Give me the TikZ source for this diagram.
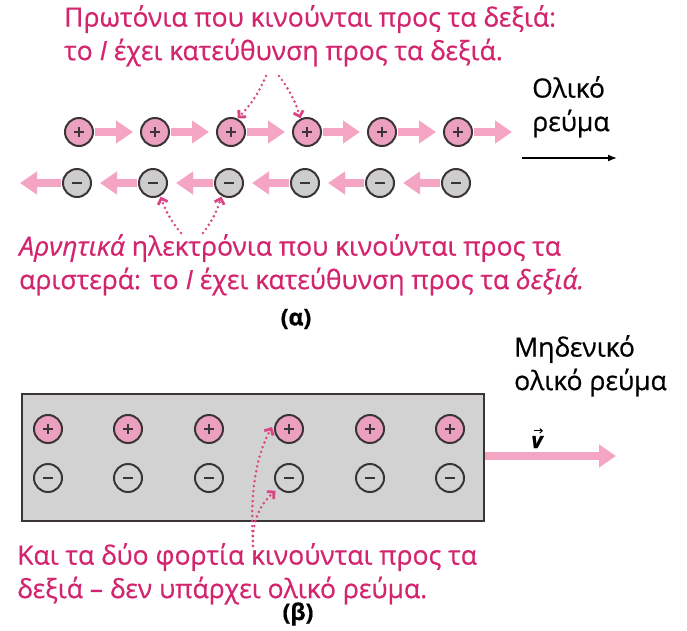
\documentclass[tikz,border=0pt]{standalone}
\usepackage{fontspec}
\setmainfont{Open Sans}[FakeBold=0.6]
\usetikzlibrary{arrows.meta}
\definecolor{txtpink}{HTML}{D3246E}
\definecolor{arrpink}{HTML}{F3A5C3}
\definecolor{ppfill}{HTML}{EBA0BF}
\definecolor{mmfill}{HTML}{CDCDCD}
\definecolor{rectgray}{HTML}{D2D2D2}
\definecolor{ringcol}{HTML}{3A3436}
\begin{document}
\begin{tikzpicture}[x=1pt,y=-1pt,
  txt/.style={font=\fontsize{26.5}{33.5}\selectfont, inner sep=0pt, align=left, anchor=north west},
  pinktxt/.style={txt, text=txtpink},
  charge/.style={circle, draw=ringcol, line width=2pt, minimum size=28pt, inner sep=0pt},
  plus/.style={charge, fill=ppfill, path picture={
     \draw[ringcol, line width=1.2pt] ([xshift=-5pt]path picture bounding box.center) -- ([xshift=5pt]path picture bounding box.center);
     \draw[ringcol, line width=1.2pt] ([yshift=-5pt]path picture bounding box.center) -- ([yshift=5pt]path picture bounding box.center);}},
  minus/.style={charge, fill=mmfill, path picture={
     \draw[ringcol, line width=1.8pt] ([xshift=-5pt]path picture bounding box.center) -- ([xshift=5pt]path picture bounding box.center);}},
  fat/.style={draw=arrpink, line width=8.5pt, -{Triangle[width=22pt,length=17pt]}, arrpink},
  dots/.style={draw=txtpink!85, line width=2.8pt, dash pattern=on 0pt off 5pt, line cap=round, -{Straight Barb[length=5pt,width=10pt,line cap=butt]}},
  caption/.style={font=\fontsize{23}{27}\selectfont\bfseries, inner sep=0pt},
]
\useasboundingbox (0,0) rectangle (687,630);

% ---------- (a) ----------
\node[pinktxt] (ta) at (64,5) {Πρωτόνια που κινούνται προς τα δεξιά:\\το \textit{I} έχει κατεύθυνση προς τα δεξιά.};

\foreach \i/\x in {1/79,2/155,3/231,4/307,5/382,6/458}{
  \node[plus] (p\i) at (\x,132) {};
}
\foreach \i/\x in {1/77,2/153,3/229,4/305,5/380,6/456}{
  \node[minus] (m\i) at (\x,183) {};
}
\coordinate (pend) at (512,132);
\coordinate (mend) at (20,183);
\foreach \a/\b in {1/2,2/3,3/4,4/5,5/6}{
  \draw[fat] ([xshift=1pt]p\a.east) -- ([xshift=-7pt]p\b.west);
  \draw[fat] ([xshift=-1pt]m\b.west) -- ([xshift=8pt]m\a.east);
}
\draw[fat] ([xshift=1pt]p6.east) -- (pend);
\draw[fat] ([xshift=-1pt]m1.west) -- (mend);

\node[txt] (ol) at (532,76) {Ολικό\\ρεύμα};
\coordinate (bl) at (522,158);
\coordinate (br) at (617,158);
\draw[line width=1.4pt, -{Latex[length=9pt,width=7pt]}] (bl) -- (br);

\coordinate (d1s) at (266,76);
\coordinate (d2s) at (279,76);
\draw[dots] (d1s) to[bend left=10] ([xshift=-4pt,yshift=3pt]p3.north east);
\draw[dots] (d2s) to[bend left=10] ([xshift=4pt,yshift=3pt]p4.north west);

\node[pinktxt] (tb) at (19,234) {\textit{Αρνητικά} ηλεκτρόνια που κινούνται προς τα\\αριστερά: το \textit{I} έχει κατεύθυνση προς τα \textit{δεξιά.}};
\coordinate (d3s) at (181,233);
\coordinate (d4s) at (203,233);
\draw[dots] (d3s) to[bend left=10] ([xshift=-3pt,yshift=-3pt]m2.south east);
\draw[dots] (d4s) to[bend right=10] ([xshift=3pt,yshift=-3pt]m3.south west);

\node[caption] (la) at (296,319) {(α)};

% ---------- (b) ----------
\node[txt] (mz) at (514,335) {Μηδενικό\\ολικό ρεύμα};

\node[draw=ringcol, line width=1.6pt, fill=rectgray, minimum width=462pt, minimum height=127pt, inner sep=0pt, anchor=north west] (rect) at (21,393) {};

\foreach \i/\x in {1/48,2/128,3/209,4/289,5/370,6/450}{
  \node[plus] (bp\i) at (\x,429) {};
  \node[minus, fill=rectgray] (bm\i) at (\x,478) {};
}

\node[font=\fontsize{22}{24}\selectfont\bfseries\itshape, inner sep=0pt] (vv) at (537,442) {v};
\draw[line width=1pt, -{Straight Barb[length=2.5pt,width=4.5pt]}] ([xshift=-3pt,yshift=5pt]vv.north) -- ([xshift=6pt,yshift=5pt]vv.north);
\coordinate (vend) at (616,456);
\draw[fat] (rect.east |- vend) -- (vend);

\node[pinktxt] (tc) at (17,543) {Και τα δύο φορτία κινούνται προς τα\\δεξιά -- δεν υπάρχει ολικό ρεύμα.};
\coordinate (d5s) at (253,546);
\draw[dots] (d5s) .. controls (250,495) and (255,458) .. ([xshift=-2pt,yshift=2pt]bp4.west);
\draw[dots] (d5s) .. controls (252,520) and (260,505) .. ([xshift=-3pt,yshift=-2pt]bm4.south west);

\node[caption] (lb) at (298,614) {(β)};
\end{tikzpicture}
\end{document}
